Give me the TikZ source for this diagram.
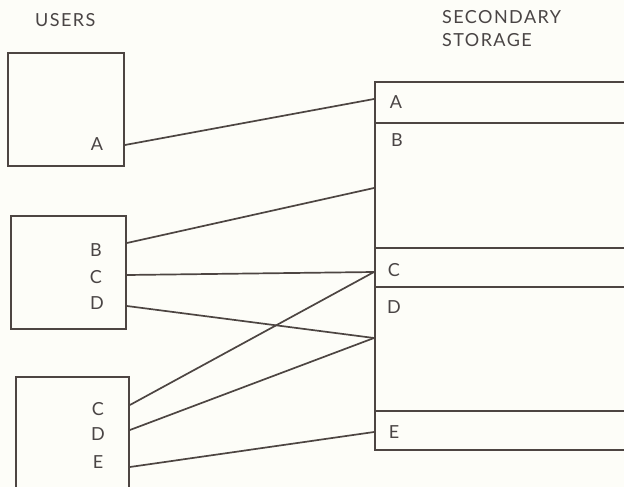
\documentclass[tikz,border=0pt]{standalone}
\usepackage{fontspec}
\setmainfont{Lato}[LetterSpace=8.0]
\begin{document}
\begin{tikzpicture}[x=1pt,y=-1pt,
  ink/.style={draw=linec,line width=1.9pt},
  ubox/.style={ink,rectangle,inner sep=0pt,anchor=north west},
  seg/.style={ink,rectangle,inner sep=0pt,anchor=north west,minimum width=320pt},
  lbl/.style={text=textc,font=\fontsize{18}{21}\selectfont,inner sep=0pt},
  hdr/.style={text=textc,font=\fontsize{18}{21}\selectfont,inner sep=0pt,anchor=west},
  conn/.style={draw=linec,line width=1.7pt}]
\definecolor{linec}{HTML}{4D4542}
\definecolor{textc}{HTML}{4A4545}
\definecolor{bgc}{HTML}{FDFDF8}
\clip (0,0) rectangle (624,487);
\fill[bgc] (0,0) rectangle (624,487);
% headers
\node[hdr] (husers) at (35,20.5) {USERS};
\node[hdr] (hsec) at (442,17.5) {SECONDARY};
\node[hdr] (hsto) at (442,40.5) {STORAGE};
% user boxes
\node[ubox,minimum width=116pt,minimum height=113pt] (u1) at (7,52) {};
\node[ubox,minimum width=115pt,minimum height=113pt] (u2) at (10,215) {};
\node[ubox,minimum width=113pt,minimum height=116pt] (u3) at (15,376) {};
% storage segments
\node[seg,minimum height=41pt] (sA) at (374,81) {};
\node[seg,minimum height=125pt] (sB) at (374,122) {};
\node[seg,minimum height=39pt] (sC) at (374,247) {};
\node[seg,minimum height=124pt] (sD) at (374,286) {};
\node[seg,minimum height=39pt] (sE) at (374,410) {};
% storage labels
\node[lbl] (lsA) at (396,102) {A};
\node[lbl] (lsB) at (397,140) {B};
\node[lbl] (lsC) at (394,270) {C};
\node[lbl] (lsD) at (394,307) {D};
\node[lbl] (lsE) at (394,432) {E};
% user labels
\node[lbl] (l1A) at (97,144) {A};
\node[lbl] (l2B) at (96,250) {B};
\node[lbl] (l2C) at (96,277) {C};
\node[lbl] (l2D) at (97,303) {D};
\node[lbl] (l3C) at (98,409) {C};
\node[lbl] (l3D) at (98,434) {D};
\node[lbl] (l3E) at (98,462) {E};
% connector end points
\coordinate (p1A) at (u1.east |- 0,145);
\coordinate (p2B) at (u2.east |- 0,243);
\coordinate (p2C) at (u2.east |- 0,275);
\coordinate (p2D) at (u2.east |- 0,306);
\coordinate (p3C) at (u3.east |- 0,405);
\coordinate (p3D) at (u3.east |- 0,430);
\coordinate (p3E) at (u3.east |- 0,467);
\coordinate (qA) at (sA.west |- 0,99);
\coordinate (qB) at (sB.west |- 0,188);
\coordinate (qC) at (sC.west |- 0,272);
\coordinate (qD) at (sD.west |- 0,338);
\coordinate (qE) at (sE.west |- 0,432);
% connectors
\draw[conn] (p1A) -- (qA);
\draw[conn] (p2B) -- (qB);
\draw[conn] (p2C) -- (qC);
\draw[conn] (p2D) -- (qD);
\draw[conn] (p3C) -- (qC);
\draw[conn] (p3D) -- (qD);
\draw[conn] (p3E) -- (qE);
\end{tikzpicture}
\end{document}
